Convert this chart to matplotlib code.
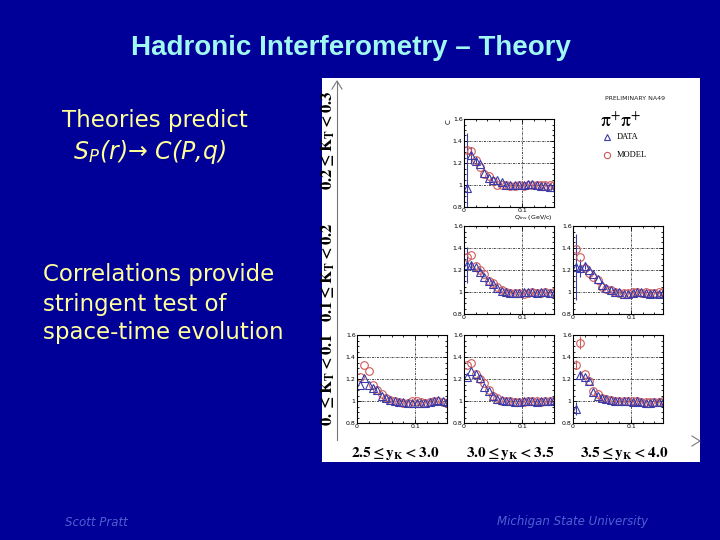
import numpy as np
import matplotlib.pyplot as plt
from matplotlib.patches import Rectangle
from matplotlib.ticker import FixedLocator, MultipleLocator

plt.rcParams['mathtext.fontset'] = 'stix'

# slide size in pixels
W, H = 720, 540

# Q_inv bin centres (GeV/c)
q_inv = [0.005, 0.0125, 0.02, 0.0275, 0.035, 0.0425, 0.05, 0.0575, 0.065, 0.0725, 0.08,
         0.0875, 0.095, 0.1025, 0.11, 0.1175, 0.125, 0.1325, 0.14, 0.1475, 0.155]

# 0.2 <= KT < 0.3, 3.0 <= yK < 3.5
data_kt3_y2 = [0.975, 1.27, 1.22, 1.19, 1.11, 1.06, 1.05, 1.05, 1.03, 1.0, 1.0,
               1.0, 1.0, 1.0, 1.005, 1.005, 1.0, 0.99, 0.99, 0.985, 0.98]
model_kt3_y2 = [1.32, 1.31, 1.23, 1.16, 1.1, 1.08, 1.04, 1.0, 1.0, 1.0, 0.995,
                0.995, 1.0, 0.995, 1.0, 1.0, 1.0, 1.0, 1.0, 1.0, 1.0]
# 0.1 <= KT < 0.2, 3.0 <= yK < 3.5
data_kt2_y2 = [1.245, 1.245, 1.23, 1.18, 1.14, 1.10, 1.07, 1.04, 1.01, 1.0, 0.995,
               0.995, 0.99, 1.0, 1.0, 1.0, 0.995, 1.0, 1.0, 0.995, 0.99]
model_kt2_y2 = [1.32, 1.34, 1.24, 1.20, 1.16, 1.10, 1.08, 1.05, 1.02, 1.0, 0.995,
                0.99, 0.99, 0.985, 0.995, 1.0, 0.99, 0.995, 1.0, 0.995, 1.0]
# 0.1 <= KT < 0.2, 3.5 <= yK < 4.0
data_kt2_y3 = [1.23, 1.22, 1.24, 1.2, 1.16, 1.12, 1.06, 1.04, 1.02, 1.0, 1.0,
               0.985, 0.985, 0.99, 1.0, 1.0, 0.99, 0.985, 0.99, 0.985, 0.995]
model_kt2_y3 = [1.39, 1.32, 1.22, 1.17, 1.14, 1.11, 1.05, 1.03, 1.02, 1.0, 0.995,
                0.99, 0.995, 1.0, 1.0, 0.995, 1.0, 0.99, 0.995, 1.0, 1.0]
# 0. <= KT < 0.1, 2.5 <= yK < 3.0
data_kt1_y1 = [1.15, 1.21, 1.15, 1.12, 1.10, 1.05, 1.03, 1.01, 1.0, 0.99, 0.99,
               0.985, 0.985, 0.98, 0.985, 0.98, 0.99, 1.0, 1.005, 1.0, 0.99]
model_kt1_y1 = [1.22, 1.33, 1.27, 1.15, 1.1, 1.06, 1.03, 1.01, 1.0, 0.99, 0.98,
                0.985, 1.0, 1.0, 0.995, 0.985, 0.99, 1.0, 1.0, 0.99, 0.98]
# 0. <= KT < 0.1, 3.0 <= yK < 3.5
data_kt1_y2 = [1.22, 1.27, 1.25, 1.21, 1.13, 1.09, 1.05, 1.02, 1.01, 1.0, 1.0,
               0.995, 0.995, 1.0, 1.0, 1.0, 0.995, 1.0, 1.0, 1.0, 1.01]
model_kt1_y2 = [1.33, 1.35, 1.25, 1.2, 1.16, 1.1, 1.05, 1.03, 1.0, 1.0, 1.0,
                0.99, 0.99, 0.995, 1.0, 1.0, 1.0, 0.995, 1.0, 1.0, 1.0]
# 0. <= KT < 0.1, 3.5 <= yK < 4.0
data_kt1_y3 = [0.93, 1.24, 1.22, 1.18, 1.08, 1.05, 1.03, 1.02, 1.01, 1.0, 1.0,
               1.0, 1.0, 0.995, 1.0, 0.99, 0.985, 0.985, 0.99, 0.99, 0.99]
model_kt1_y3 = [1.33, 1.53, 1.25, 1.18, 1.09, 1.06, 1.03, 1.02, 1.01, 1.0, 1.0,
                1.0, 1.0, 1.0, 1.0, 0.995, 0.995, 0.99, 0.99, 0.995, 1.0]

# error bars on the first few bins only (the rest are smaller than the markers)
data_err_kt3_y2 = [0.5, 0.08, 0.03] + [0.0] * 18
data_err_kt2_y2 = [0.16, 0.04] + [0.0] * 19
data_err_kt2_y3 = [0.3, 0.08, 0.03] + [0.0] * 18
data_err_kt1_y3 = [0.06, 0.03] + [0.0] * 19
model_err_kt1_y3 = [0.04, 0.06] + [0.0] * 19

row_labels = [r'$\mathbf{0.2 \leq K_T < 0.3}$', r'$\mathbf{0.1 \leq K_T < 0.2}$',
              r'$\mathbf{0. \leq K_T < 0.1}$']
col_labels = [r'$\mathbf{2.5 \leq y_K < 3.0}$', r'$\mathbf{3.0 \leq y_K < 3.5}$',
              r'$\mathbf{3.5 \leq y_K < 4.0}$']

bg_blue = '#000099'
data_col = '#3a3aa8'
model_col = '#d05a5a'


def px_rect(x, y, w, h):
    return [x / W, 1 - (y + h) / H, w / W, h / H]


fig = plt.figure(figsize=(7.2, 5.4), dpi=100)
fig.patch.set_facecolor(bg_blue)

# slide layer in pixel coordinates
slide = fig.add_axes([0, 0, 1, 1])
slide.set_xlim(0, W)
slide.set_ylim(H, 0)
slide.axis('off')

slide.text(351, 48, 'Hadronic Interferometry \u2013 Theory', color='#a0f8f0', fontsize=20,
           fontweight='bold', family='Liberation Sans', ha='center', va='center')

yellow = '#ffff99'
slide.text(62, 120, 'Theories predict', color=yellow, fontsize=16.5, ha='left', va='center')
slide.text(73, 152, 'S$_\\mathregular{P}$(r)\u2192 C(P,q)', color=yellow, fontsize=17,
           style='italic', ha='left', va='center')
for i, line in enumerate(['Correlations provide', 'stringent test of', 'space-time evolution']):
    slide.text(43, 275 + i * 29, line, color=yellow, fontsize=16.5, ha='left', va='center')

foot = '#4f5fd0'
slide.text(65, 522, 'Scott Pratt', color=foot, fontsize=8.5, style='italic', ha='left', va='center')
slide.text(497, 522, 'Michigan State University', color=foot, fontsize=8.5, style='italic',
           ha='left', va='center')

# embedded figure
slide.add_patch(Rectangle((322, 78), 378, 384, facecolor='white', edgecolor='none'))
slide.plot([337, 337], [440, 81], color='#777777', lw=0.8)
slide.plot([332, 337, 342], [89, 81, 89], color='#777777', lw=0.8)
slide.plot([692, 700, 692], [436, 441, 446], color='#777777', lw=0.8)

row_y = [140, 272, 380]
for y, lab in zip(row_y, row_labels):
    slide.text(328, y, lab, fontsize=12, rotation=90, ha='center', va='center', color='black')
col_x = [395, 510, 624]
for x, lab in zip(col_x, col_labels):
    slide.text(x, 453, lab, fontsize=11, ha='center', va='center', color='black')

# legend
slide.text(605, 98, 'PRELIMINARY NA49', fontsize=4.5, color='#222222', ha='left', va='center')
slide.text(600, 121, r'$\mathrm{\pi}^{+}\mathrm{\pi}^{+}$', fontsize=14, color='black',
           ha='left', va='center')
slide.plot([607], [137], marker='^', ms=4.5, mfc='none', mec=data_col, mew=0.8)
slide.text(617, 137, 'DATA', fontsize=6, family='Liberation Serif', ha='left', va='center')
slide.plot([607], [155], marker='o', ms=4.5, mfc='none', mec=model_col, mew=0.8)
slide.text(617, 155, 'MODEL', fontsize=6, family='Liberation Serif', ha='left', va='center')

panels = [
    (464, 119, data_kt3_y2, model_kt3_y2, data_err_kt3_y2, None),
    (464, 226, data_kt2_y2, model_kt2_y2, data_err_kt2_y2, None),
    (573, 226, data_kt2_y3, model_kt2_y3, data_err_kt2_y3, None),
    (357, 335, data_kt1_y1, model_kt1_y1, None, None),
    (464, 335, data_kt1_y2, model_kt1_y2, None, None),
    (573, 335, data_kt1_y3, model_kt1_y3, data_err_kt1_y3, model_err_kt1_y3),
]

for x0, y0, dat, mod, derr, merr in panels:
    ax = fig.add_axes(px_rect(x0, y0, 90, 88))
    ax.set_facecolor('white')
    ax.errorbar(q_inv, mod, yerr=merr, fmt='o', ms=5.5, mfc='none', mec=model_col,
                mew=0.8, ecolor=model_col, elinewidth=0.8, capsize=0)
    ax.errorbar(q_inv, dat, yerr=derr, fmt='^', ms=5.5, mfc='none', mec=data_col,
                mew=0.8, ecolor=data_col, elinewidth=0.8, capsize=0)
    ax.set_xlim(0, 0.155)
    ax.set_ylim(0.8, 1.6)
    ax.xaxis.set_major_locator(FixedLocator([0, 0.1]))
    ax.set_xticklabels(['0', '0.1'])
    ax.xaxis.set_minor_locator(MultipleLocator(0.02))
    ax.yaxis.set_major_locator(FixedLocator([0.8, 1.0, 1.2, 1.4, 1.6]))
    ax.set_yticklabels(['0.8', '1', '1.2', '1.4', '1.6'])
    ax.yaxis.set_minor_locator(MultipleLocator(0.05))
    ax.tick_params(which='both', direction='in', top=True, right=True, labelsize=4.5,
                   pad=1, width=0.6)
    ax.tick_params(which='major', length=3)
    ax.tick_params(which='minor', length=1.5)
    for s in ax.spines.values():
        s.set_linewidth(0.8)
    for yv in [1.0, 1.2, 1.4]:
        ax.axhline(yv, color='black', lw=0.5, ls=(0, (3, 1.5, 1, 1.5)), zorder=0)
    ax.axvline(0.1, color='black', lw=0.5, ls=(0, (3, 1.5, 1, 1.5)), zorder=0)

slide.text(449, 122, 'C', fontsize=5, rotation=90, ha='center', va='center')
slide.text(553, 218, r'Q$_\mathregular{inv}$ (GeV/c)', fontsize=4.5, ha='right', va='center')

plt.savefig('out.png', dpi=100, facecolor=fig.get_facecolor())
